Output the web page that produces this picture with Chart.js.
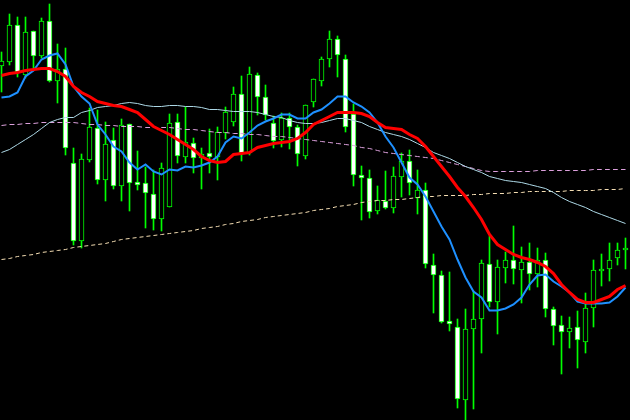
<!DOCTYPE html>
<html>
<head>
<meta charset="utf-8">
<title>Candles</title>
<script src="https://cdn.jsdelivr.net/npm/chart.js@4.4.0/dist/chart.umd.min.js"></script>
<style>
  html, body { margin: 0; padding: 0; background: #000; }
  #wrap { width: 630px; height: 420px; }
</style>
</head>
<body>
<div id="wrap"><canvas id="priceChart" width="630" height="420"></canvas></div>
<script>
// --- candle data (arbitrary price units) ---
const opens = [354, 358, 395, 345, 389, 364, 399, 339, 351, 257,
  179, 260, 292, 240, 280, 234, 296, 238, 237, 226,
  201, 213, 298, 263, 277, 262, 267, 263, 287, 298,
  326, 267, 345, 323, 297, 280, 302, 293, 264, 318,
  339, 361, 381, 361, 306, 245, 242, 209, 219, 212,
  243, 259, 222, 230, 155, 145, 99, 93, 20, 91,
  101, 156, 118, 152, 160, 150, 158, 146, 160, 111,
  95, 88, 93, 78, 112, 149, 151, 162, 170];
const highs = [368, 406, 403, 403, 389, 402, 416, 376, 372, 272,
  266, 312, 310, 298, 292, 301, 296, 269, 253, 250,
  257, 306, 306, 313, 282, 272, 291, 293, 313, 333,
  344, 353, 347, 335, 304, 307, 307, 295, 315, 341,
  363, 389, 384, 365, 316, 254, 250, 234, 249, 253,
  267, 270, 250, 237, 166, 149, 148, 101, 111, 129,
  160, 184, 160, 168, 194, 173, 177, 172, 167, 113,
  104, 103, 109, 127, 160, 166, 177, 177, 182];
const lows = [328, 355, 343, 342, 352, 362, 338, 317, 265, 175,
  172, 258, 236, 219, 231, 219, 209, 230, 192, 190,
  189, 213, 257, 257, 247, 231, 247, 240, 281, 294,
  259, 265, 305, 300, 272, 273, 271, 254, 261, 313,
  334, 353, 343, 288, 234, 200, 202, 206, 211, 207,
  223, 225, 206, 152, 107, 97, 89, 12, 0, 11,
  67, 113, 86, 137, 136, 117, 130, 133, 103, 75,
  46, 72, 52, 67, 93, 134, 139, 155, 151];
const closes = [359, 395, 348, 388, 364, 399, 339, 351, 272, 179,
  261, 293, 240, 276, 234, 295, 237, 235, 227, 201,
  252, 297, 264, 278, 262, 266, 263, 288, 308, 326,
  267, 346, 323, 305, 279, 302, 293, 266, 315, 341,
  361, 381, 365, 293, 245, 242, 208, 220, 212, 244,
  259, 237, 230, 156, 145, 98, 96, 21, 91, 101,
  157, 118, 153, 160, 151, 158, 146, 160, 111, 94,
  88, 92, 80, 112, 150, 151, 160, 170, 172];

// --- indicator lines, one value per candle ---
const maRed = [344, 346, 347, 349, 350, 351, 351, 348, 343, 333,
  327, 323, 318, 316, 314, 313, 310, 307, 300, 293,
  289, 285, 280, 275, 270, 263, 259, 257, 258, 265,
  266, 267, 272, 274, 276, 277, 278, 281, 287, 295,
  299, 303, 307, 307, 307, 306, 303, 297, 292, 291,
  290, 285, 281, 273, 263, 253, 243, 232, 223, 212,
  200, 185, 175, 170, 165, 162, 160, 157, 153, 146,
  135, 127, 120, 117, 117, 120, 123, 130, 134];
const maBlue = [322, 323, 327, 343, 349, 360, 364, 366, 355, 333,
  323, 316, 295, 285, 273, 268, 257, 250, 255, 248,
  245, 250, 249, 253, 252, 254, 257, 263, 277, 283,
  281, 287, 294, 298, 301, 305, 305, 301, 301, 307,
  310, 316, 323, 323, 317, 313, 307, 297, 283, 272,
  257, 242, 235, 223, 208, 193, 180, 160, 142, 128,
  122, 109, 109, 111, 115, 122, 135, 144, 145, 138,
  133, 127, 118, 116, 116, 116, 117, 123, 132];
const maSlow = [267, 270, 275, 280, 285, 291, 297, 300, 302, 302,
  307, 309, 312, 313, 314, 316, 317, 316, 314, 313,
  313, 314, 314, 313, 313, 312, 310, 310, 309, 308,
  308, 308, 307, 305, 303, 302, 299, 297, 296, 296,
  297, 299, 301, 301, 299, 297, 293, 290, 287, 285,
  283, 280, 276, 272, 267, 264, 261, 257, 253, 250,
  247, 243, 241, 239, 238, 237, 235, 233, 231, 227,
  222, 218, 215, 212, 208, 205, 202, 199, 196];
const bandPink = [294, 295, 295, 296, 296, 297, 297, 297, 297, 297,
  296, 295, 295, 294, 294, 293, 293, 293, 292, 292,
  292, 292, 291, 290, 290, 289, 288, 287, 287, 286,
  286, 285, 285, 284, 283, 283, 282, 281, 280, 279,
  278, 277, 276, 275, 274, 272, 271, 269, 267, 266,
  265, 264, 263, 262, 261, 259, 257, 255, 253, 251,
  249, 248, 248, 248, 248, 248, 248, 249, 249, 249,
  249, 249, 249, 249, 250, 250, 250, 250, 250];
const bandCream = [160, 161, 163, 164, 165, 167, 168, 169, 170, 172,
  173, 174, 175, 176, 178, 180, 181, 182, 183, 184,
  185, 186, 187, 188, 189, 191, 192, 193, 195, 196,
  198, 199, 200, 202, 203, 204, 205, 206, 207, 209,
  210, 211, 213, 214, 215, 217, 218, 219, 219, 220,
  220, 221, 222, 223, 223, 224, 224, 224, 224, 225,
  225, 226, 226, 226, 227, 227, 228, 228, 228, 228,
  228, 229, 229, 229, 229, 230, 230, 230, 231];

// --- build datasets ---
const bars = opens.map((o, i) => i);
const wickData = bars.map(i => ({ x: i, y: [lows[i], highs[i]] }));
const bodyData = bars.map(i => ({ x: i, y: [opens[i], closes[i]] }));
const bodyFill = bars.map(i => closes[i] < opens[i] ? '#ffffff' : '#000000');
const toPoints = arr => arr.map((v, i) => ({ x: i, y: v }));

// indicator lines go on their own (hidden) axis, shifted half a pixel so thin lines stay crisp
function lineSet(values, color, width, dash, order) {
  return {
    type: 'line',
    data: toPoints(values),
    yAxisID: 'yLines',
    borderColor: color,
    borderWidth: width,
    borderDash: dash,
    pointRadius: 0,
    tension: 0,
    order: order
  };
}

const ctx = document.getElementById('priceChart');
new Chart(ctx, {
  type: 'bar',
  data: {
    datasets: [
      lineSet(maRed, '#ff0000', 3, [], 0),
      lineSet(maBlue, '#1e90ff', 2, [], 1),
      lineSet(maSlow, '#add8e6', 1, [], 2),
      lineSet(bandPink, '#dda0dd', 1, [5, 3], 3),
      lineSet(bandCream, '#f5deb3', 1, [4, 3], 4),
      {
        // candle bodies
        data: bodyData,
        backgroundColor: bodyFill,
        borderColor: '#00ff00',
        borderWidth: 1,
        borderSkipped: false,
        barThickness: 5,
        grouped: false,
        order: 5
      },
      {
        // wicks
        data: wickData,
        backgroundColor: '#00ff00',
        borderWidth: 0,
        barThickness: 1,
        grouped: false,
        order: 6
      }
    ]
  },
  options: {
    responsive: false,
    animation: false,
    devicePixelRatio: 1,
    layout: { padding: 0 },
    plugins: { legend: { display: false }, tooltip: { enabled: false } },
    scales: {
      x: { type: 'linear', display: false, offset: false, min: -0.1875, max: 78.5625 },
      y: { display: false, min: 0, max: 420 },
      yLines: { display: false, min: -0.5, max: 419.5 }
    }
  }
});
</script>
</body>
</html>
